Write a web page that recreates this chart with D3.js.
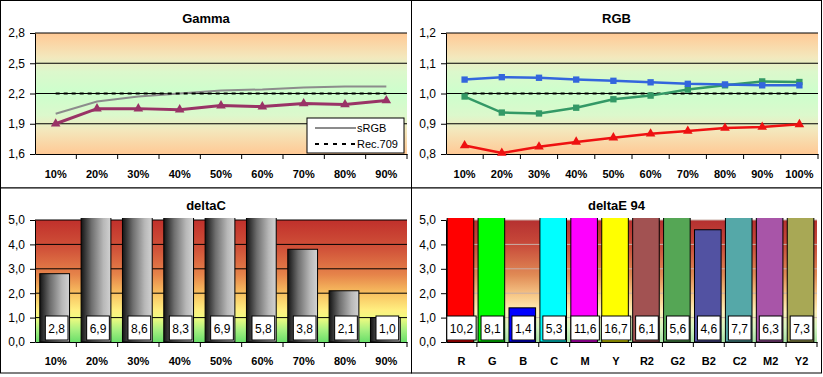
<!DOCTYPE html>
<html>
<head>
<meta charset="utf-8">
<script src="https://cdn.jsdelivr.net/npm/d3@7"></script>
<style>
  body { margin: 0; background: #fff; }
  text { font-family: Arial, "Liberation Sans", sans-serif; }
</style>
</head>
<body>
<svg id="chart" width="823" height="377"></svg>
<script>
// ---- data ----
const pct9 = ["10%", "20%", "30%", "40%", "50%", "60%", "70%", "80%", "90%"];
const pct10 = ["10%", "20%", "30%", "40%", "50%", "60%", "70%", "80%", "90%", "100%"];

const gammaMeasured = [1.90, 2.05, 2.05, 2.04, 2.08, 2.07, 2.10, 2.09, 2.13];
const gammaSRGB = [2.00, 2.12, 2.17, 2.20, 2.23, 2.24, 2.26, 2.27, 2.27];
const gammaRec709 = [2.2, 2.2, 2.2, 2.2, 2.2, 2.2, 2.2, 2.2, 2.2];
const gammaTicks = [1.6, 1.9, 2.2, 2.5, 2.8];

const rgbRed = [0.828, 0.803, 0.824, 0.840, 0.854, 0.867, 0.876, 0.886, 0.889, 0.898];
const rgbGreen = [0.990, 0.937, 0.934, 0.953, 0.981, 0.993, 1.013, 1.027, 1.040, 1.038];
const rgbBlue = [1.046, 1.054, 1.052, 1.046, 1.042, 1.037, 1.032, 1.030, 1.027, 1.027];
const rgbRef = [1, 1, 1, 1, 1, 1, 1, 1, 1, 1];
const rgbTicks = [0.8, 0.9, 1.0, 1.1, 1.2];

const deltaC = [2.8, 6.9, 8.6, 8.3, 6.9, 5.8, 3.8, 2.1, 1.0];
const deltaTicks = [0, 1, 2, 3, 4, 5];

const patches = ["R", "G", "B", "C", "M", "Y", "R2", "G2", "B2", "C2", "M2", "Y2"];
const deltaE = [10.2, 8.1, 1.4, 5.3, 11.6, 16.7, 6.1, 5.6, 4.6, 7.7, 6.3, 7.3];
const patchColors = ["#ff0000", "#00ff00", "#0000ff", "#00ffff", "#ff00ff", "#ffff00",
  "#a25252", "#55a655", "#5252a2", "#55a8a8", "#a855a8", "#a8a855"];

// ---- helpers ----
const svg = d3.select("#chart");
const defs = svg.append("defs");
const comma = v => d3.format(".1f")(v).replace(".", ",");

function gradient(id, stops, horizontal) {
  const lg = defs.append("linearGradient").attr("id", id)
    .attr("x1", 0).attr("y1", 0)
    .attr("x2", horizontal ? 1 : 0).attr("y2", horizontal ? 0 : 1);
  stops.forEach(([o, c]) => lg.append("stop").attr("offset", o).attr("stop-color", c));
}

gradient("bgTop", [[0, "#ffc995"], [0.2, "#f3e8bd"], [0.32, "#dcf8cc"], [0.5, "#ccffcc"],
  [0.68, "#dcf8cc"], [0.8, "#f3e8bd"], [1, "#ffc995"]]);
gradient("bgDC", [[0, "#c0302b"], [0.25, "#d2553a"], [0.45, "#e6844a"], [0.6, "#f8c060"],
  [0.74, "#ffef80"], [0.8, "#f2fb80"], [0.9, "#a8f080"], [1, "#6ade6a"]]);
gradient("bgDE", [[0, "#b53030"], [0.2, "#c84a3a"], [0.45, "#e08a55"], [0.62, "#f7c888"],
  [0.75, "#fff0b8"], [0.88, "#d6f5c0"], [1, "#a6e3a6"]]);
gradient("barGrey", [[0, "#141414"], [0.35, "#6e6e6e"], [0.75, "#b8b8b8"], [1, "#d2d2d2"]], true);

// panel frame, title, background, grid and axes
function panel(p) {
  svg.append("rect").attr("x", p.fx).attr("y", p.fy).attr("width", p.fw).attr("height", p.fh)
    .attr("fill", "#fff").attr("stroke", "#000");

  svg.append("text").attr("x", p.fx + p.fw / 2).attr("y", p.titleY)
    .attr("text-anchor", "middle").attr("font-size", 13).attr("font-weight", "bold")
    .text(p.title);

  const x = d3.scaleBand().domain(p.cats).range([p.left, p.right]);
  const y = d3.scaleLinear().domain([p.ticks[0], p.ticks[p.ticks.length - 1]]).range([p.bottom, p.top]);

  svg.append("rect").attr("x", p.left).attr("y", p.top)
    .attr("width", p.right - p.left).attr("height", p.bottom - p.top)
    .attr("fill", `url(#${p.bg})`);

  svg.append("g").selectAll("line").data(p.ticks.slice(1)).join("line")
    .attr("x1", p.left).attr("x2", p.right)
    .attr("y1", d => y(d)).attr("y2", d => y(d))
    .attr("stroke", p.gridColor).attr("stroke-width", 1);

  const yAxis = svg.append("g").attr("transform", `translate(${p.left},0)`)
    .call(d3.axisLeft(y).tickValues(p.ticks).tickFormat(comma).tickSize(5).tickPadding(5).tickSizeOuter(0));
  yAxis.selectAll("text").attr("font-size", 12).attr("fill", "#000").attr("font-family", null);
  yAxis.selectAll("line,path").attr("stroke", "#000");

  const xAxis = svg.append("g").attr("transform", `translate(0,${p.bottom})`)
    .call(d3.axisBottom(x).tickSize(0).tickPadding(0).tickSizeOuter(0));
  xAxis.selectAll("text").attr("font-size", 11).attr("font-weight", "bold")
    .attr("fill", "#000").attr("font-family", null).attr("dy", null).attr("y", p.labelDy);
  xAxis.select("path").attr("stroke", "#000");
  xAxis.selectAll(".edge").data(p.cats.slice(1).concat(["__end"])).join("line")
    .attr("class", "edge")
    .attr("x1", d => d === "__end" ? p.right : x(d)).attr("x2", d => d === "__end" ? p.right : x(d))
    .attr("y1", 0).attr("y2", 5).attr("stroke", "#000");

  return { x, y };
}

function line(sc, cats, vals, color, width, dash) {
  const gen = d3.line().x((d, i) => sc.x(cats[i]) + sc.x.bandwidth() / 2).y(d => sc.y(d));
  svg.append("path").attr("d", gen(vals)).attr("fill", "none")
    .attr("stroke", color).attr("stroke-width", width)
    .attr("stroke-dasharray", dash || null);
}

function markers(sc, cats, vals, color, symbol, size) {
  svg.append("g").selectAll("path").data(vals).join("path")
    .attr("transform", (d, i) => `translate(${sc.x(cats[i]) + sc.x.bandwidth() / 2},${sc.y(d)})`)
    .attr("d", d3.symbol(symbol, size)).attr("fill", color);
}

function valueBoxes(sc, cats, vals, boxTop, boxBottom, shift) {
  const g = svg.append("g");
  vals.forEach((v, i) => {
    const cx = sc.x(cats[i]) + sc.x.bandwidth() / 2 + shift;
    const rect = g.append("rect");
    const t = g.append("text").attr("x", cx).attr("y", (boxTop + boxBottom) / 2 + 4.5)
      .attr("text-anchor", "middle").attr("font-size", 12).text(comma(v));
    const w = t.node().getComputedTextLength() + 6;
    rect.attr("x", cx - w / 2).attr("y", boxTop).attr("width", w).attr("height", boxBottom - boxTop)
      .attr("fill", "#fff").attr("stroke", "#000");
  });
}

// ---- Gamma ----
const gp = { fx: 0.5, fy: 0.5, fw: 411, fh: 187.5, title: "Gamma", titleY: 23,
  left: 35, right: 407, top: 33, bottom: 154, cats: pct9, ticks: gammaTicks,
  bg: "bgTop", gridColor: "#000", labelDy: 24 };
const gs = panel(gp);
line(gs, pct9, gammaSRGB, "#8c8c8c", 2);
line(gs, pct9, gammaRec709, "#000", 2, "4,4");
line(gs, pct9, gammaMeasured, "#993366", 3);
markers(gs, pct9, gammaMeasured, "#993366", d3.symbolTriangle, 40);

// legend
const lg = svg.append("g").attr("transform", "translate(307,118)");
lg.append("rect").attr("width", 97).attr("height", 35).attr("fill", "#fff").attr("stroke", "#000");
lg.append("line").attr("x1", 8).attr("x2", 49).attr("y1", 10).attr("y2", 10)
  .attr("stroke", "#8c8c8c").attr("stroke-width", 2);
lg.append("text").attr("x", 50).attr("y", 14).attr("font-size", 11).text("sRGB");
lg.append("line").attr("x1", 8).attr("x2", 49).attr("y1", 26).attr("y2", 26)
  .attr("stroke", "#000").attr("stroke-width", 2).attr("stroke-dasharray", "4,5");
lg.append("text").attr("x", 50).attr("y", 30).attr("font-size", 11).text("Rec.709");

// ---- RGB ----
const rp = { fx: 411.5, fy: 0.5, fw: 410, fh: 187.5, title: "RGB", titleY: 23,
  left: 446, right: 818, top: 33, bottom: 154, cats: pct10, ticks: rgbTicks,
  bg: "bgTop", gridColor: "#000", labelDy: 24 };
const rs = panel(rp);
line(rs, pct10, rgbRef, "#000", 2, "4,4");
line(rs, pct10, rgbRed, "#ee1111", 2.5);
markers(rs, pct10, rgbRed, "#ee1111", d3.symbolTriangle, 40);
line(rs, pct10, rgbGreen, "#339966", 2.5);
markers(rs, pct10, rgbGreen, "#339966", d3.symbolSquare, 40);
line(rs, pct10, rgbBlue, "#3366dd", 2.5);
markers(rs, pct10, rgbBlue, "#3366dd", d3.symbolSquare, 40);

// ---- deltaC ----
const cp = { fx: 0.5, fy: 188, fw: 411, fh: 185, title: "deltaC", titleY: 210,
  left: 35, right: 407, top: 220, bottom: 342, cats: pct9, ticks: deltaTicks,
  bg: "bgDC", gridColor: "#000", labelDy: 23 };
const cs = panel(cp);
defs.append("clipPath").attr("id", "clipC").append("rect")
  .attr("x", cp.left).attr("y", cp.top - 2).attr("width", cp.right - cp.left).attr("height", cp.bottom - cp.top + 2);
const cbw = cs.x.bandwidth() * 0.72;
svg.append("g").attr("clip-path", "url(#clipC)").selectAll("rect").data(deltaC).join("rect")
  .attr("x", (d, i) => cs.x(pct9[i]) + (cs.x.bandwidth() - cbw) / 2 - 1)
  .attr("y", d => cs.y(d)).attr("width", cbw).attr("height", d => cs.y(0) - cs.y(d))
  .attr("fill", "url(#barGrey)").attr("stroke", "#000");
valueBoxes(cs, pct9, deltaC, 316, 340, 1);

// ---- deltaE 94 ----
const ep = { fx: 411.5, fy: 188, fw: 410, fh: 185, title: "deltaE 94", titleY: 210,
  left: 446, right: 817, top: 220, bottom: 342, cats: patches, ticks: deltaTicks,
  bg: "bgDE", gridColor: "#c9b0a8", labelDy: 23 };
const es = panel(ep);
defs.append("clipPath").attr("id", "clipE").append("rect")
  .attr("x", ep.left).attr("y", ep.top - 2).attr("width", ep.right - ep.left).attr("height", ep.bottom - ep.top + 2);
const ebw = es.x.bandwidth() * 0.86;
svg.append("g").attr("clip-path", "url(#clipE)").selectAll("rect").data(deltaE).join("rect")
  .attr("x", (d, i) => es.x(patches[i]) + (es.x.bandwidth() - ebw) / 2 - 1)
  .attr("y", d => es.y(d)).attr("width", ebw).attr("height", d => es.y(0) - es.y(d))
  .attr("fill", (d, i) => patchColors[i]).attr("stroke", "#000");
valueBoxes(es, patches, deltaE, 316, 340, 0);
</script>
</body>
</html>
